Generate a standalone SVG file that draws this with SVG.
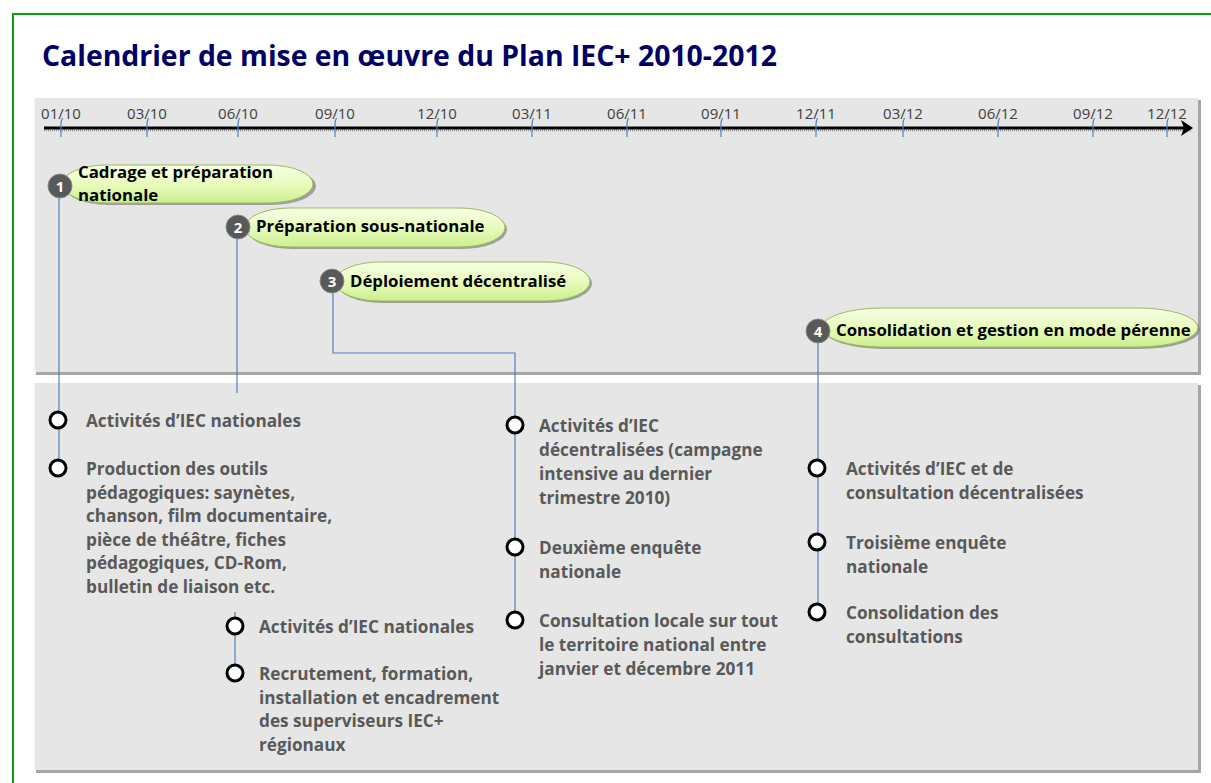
<svg xmlns="http://www.w3.org/2000/svg" width="1211" height="783" viewBox="0 0 1211 783">
<style>
.title{font-family:"Open Sans","Liberation Sans",sans-serif;font-weight:bold;font-size:28.4px;fill:#000066}
.tick{font-family:"Open Sans","Liberation Sans",sans-serif;font-size:15px;fill:#404040;text-anchor:middle}
.tk{stroke:#4f81bd;stroke-width:1.2;fill:none}
.ph{font-family:"Open Sans","Liberation Sans",sans-serif;font-weight:bold;font-size:16.8px;fill:#000}
.num{font-family:"Open Sans","Liberation Sans",sans-serif;font-weight:bold;font-size:15px;fill:#fff;text-anchor:middle}
.nc{fill:#595959;stroke:#8c8c8c;stroke-width:1}
.pill{fill:url(#pg);stroke:#9bbb59;stroke-width:1}
.psh{fill:#7f7f7f;opacity:0.7}
.it{font-family:"Open Sans","Liberation Sans",sans-serif;font-weight:bold;font-size:17.2px;fill:#595959}
.dot{fill:#fff;stroke:#000;stroke-width:3}
.con{stroke:#4f81bd;stroke-width:1.2;fill:none}
.panel{fill:#e6e6e6}
</style>
<defs>
<linearGradient id="pg" x1="0" y1="0" x2="0" y2="1">
<stop offset="0" stop-color="#f6ffe6"/>
<stop offset="0.5" stop-color="#e8fbbd"/>
<stop offset="1" stop-color="#cdef8e"/>
</linearGradient>
<marker id="arr" markerWidth="6" markerHeight="6" refX="3" refY="3" orient="auto" markerUnits="strokeWidth">
<path d="M0,0.3 L4,3 L0,5.7 L1,3 Z" fill="#000"/>
</marker>
</defs>
<rect x="0" y="0" width="1211" height="783" fill="#fff"/>
<rect x="13" y="14" width="1300" height="900" fill="none" stroke="#129b12" stroke-width="2"/>
<text class="title" x="42" y="66">Calendrier de mise en œuvre du Plan IEC+ 2010-2012</text>

<g id="panel-top">
<rect x="36" y="100" width="1165" height="275" fill="#a6a6a6"/>
<rect x="34" y="98" width="1164" height="274" class="panel"/>
<line x1="34.5" y1="98" x2="34.5" y2="372" stroke="#f2f2f2" stroke-width="1"/>
</g>
<g id="panel-bottom">
<rect x="36" y="385" width="1165" height="388" fill="#a6a6a6"/>
<rect x="34" y="383" width="1164" height="387" class="panel"/>
<line x1="34.5" y1="383" x2="34.5" y2="770" stroke="#f2f2f2" stroke-width="1"/>
</g>

<g id="axis">
<line x1="44" y1="130.5" x2="1192" y2="130.5" stroke="#8c8c8c" stroke-width="1.5" stroke-dasharray="1 1"/>
<line x1="44" y1="128" x2="1190" y2="128" stroke="#000" stroke-width="3" marker-end="url(#arr)"/>
<g id="ticks">
<text class="tick" x="61" y="119">01/10</text>
<text class="tick" x="147" y="119">03/10</text>
<text class="tick" x="238" y="119">06/10</text>
<text class="tick" x="335" y="119">09/10</text>
<text class="tick" x="437" y="119">12/10</text>
<text class="tick" x="532" y="119">03/11</text>
<text class="tick" x="627" y="119">06/11</text>
<text class="tick" x="721" y="119">09/11</text>
<text class="tick" x="816" y="119">12/11</text>
<text class="tick" x="903" y="119">03/12</text>
<text class="tick" x="998" y="119">06/12</text>
<text class="tick" x="1093" y="119">09/12</text>
<text class="tick" x="1167" y="119">12/12</text>
<path class="tk" d="M62.5 118 Q61 121 61 124 V137"/>
<path class="tk" d="M148.5 118 Q147 121 147 124 V137"/>
<path class="tk" d="M239.5 118 Q238 121 238 124 V137"/>
<path class="tk" d="M336.5 118 Q335 121 335 124 V137"/>
<path class="tk" d="M438.5 118 Q437 121 437 124 V137"/>
<path class="tk" d="M533.5 118 Q532 121 532 124 V137"/>
<path class="tk" d="M628.5 118 Q627 121 627 124 V137"/>
<path class="tk" d="M722.5 118 Q721 121 721 124 V137"/>
<path class="tk" d="M817.5 118 Q816 121 816 124 V137"/>
<path class="tk" d="M904.5 118 Q903 121 903 124 V137"/>
<path class="tk" d="M999.5 118 Q998 121 998 124 V137"/>
<path class="tk" d="M1094.5 118 Q1093 121 1093 124 V137"/>
<path class="tk" d="M1168.5 118 Q1167 121 1167 124 V137"/>
</g>
</g>

<g id="connectors">
<path class="con" d="M59 197 V468"/>
<path class="con" d="M237 238 V393"/>
<path class="con" d="M235 612 V673"/>
<path class="con" d="M333 292 V353 H515 V620"/>
<path class="con" d="M818 342 V612"/>
</g>

<g id="phase1">
<rect class="psh" x="64" y="167" width="252" height="38" rx="45" ry="19"/>
<rect class="pill" x="62" y="165" width="251" height="38" rx="45" ry="19"/>
<circle class="nc" cx="60" cy="186" r="12"/>
<text class="num" x="60" y="191.5">1</text>
<text class="ph" x="78" y="178">Cadrage et préparation</text>
<text class="ph" x="78" y="201">nationale</text>
</g>
<g id="phase2">
<rect class="psh" x="247" y="210" width="260" height="39" rx="45" ry="19.5"/>
<rect class="pill" x="245" y="208" width="260" height="39" rx="45" ry="19.5"/>
<circle class="nc" cx="238" cy="227" r="12"/>
<text class="num" x="238" y="232.5">2</text>
<text class="ph" x="256" y="232">Préparation sous-nationale</text>
</g>
<g id="phase3">
<rect class="psh" x="337" y="264" width="255" height="39" rx="45" ry="19.5"/>
<rect class="pill" x="335" y="262" width="255" height="39" rx="45" ry="19.5"/>
<circle class="nc" cx="332" cy="281" r="12"/>
<text class="num" x="332" y="286.5">3</text>
<text class="ph" x="350" y="287">Déploiement décentralisé</text>
</g>
<g id="phase4">
<rect class="psh" x="824" y="310" width="376" height="39" rx="60" ry="19.5"/>
<rect class="pill" x="822" y="308" width="376" height="39" rx="60" ry="19.5"/>
<circle class="nc" cx="818" cy="331" r="12"/>
<text class="num" x="818" y="336.5">4</text>
<text class="ph" x="836" y="336">Consolidation et gestion en mode pérenne</text>
</g>

<g id="item1a">
<circle class="dot" cx="58" cy="420" r="8"/>
<text class="it" x="86" y="427">Activités d’IEC nationales</text>
</g>
<g id="item1b">
<circle class="dot" cx="58" cy="468" r="8"/>
<text class="it" x="86" y="475">Production des outils</text>
<text class="it" x="86" y="498.5">pédagogiques: saynètes,</text>
<text class="it" x="86" y="522">chanson, film documentaire,</text>
<text class="it" x="86" y="545.5">pièce de théâtre, fiches</text>
<text class="it" x="86" y="569">pédagogiques, CD-Rom,</text>
<text class="it" x="86" y="592.5">bulletin de liaison etc.</text>
</g>
<g id="item2a">
<circle class="dot" cx="235" cy="626" r="8"/>
<text class="it" x="259" y="633">Activités d’IEC nationales</text>
</g>
<g id="item2b">
<circle class="dot" cx="235" cy="673" r="8"/>
<text class="it" x="259" y="680">Recrutement, formation,</text>
<text class="it" x="259" y="703.5">installation et encadrement</text>
<text class="it" x="259" y="727">des superviseurs IEC+</text>
<text class="it" x="259" y="750.5">régionaux</text>
</g>
<g id="item3a">
<circle class="dot" cx="515" cy="425" r="8"/>
<text class="it" x="539" y="432">Activités d’IEC</text>
<text class="it" x="539" y="456">décentralisées (campagne</text>
<text class="it" x="539" y="480">intensive au dernier</text>
<text class="it" x="539" y="504">trimestre 2010)</text>
</g>
<g id="item3b">
<circle class="dot" cx="515" cy="547" r="8"/>
<text class="it" x="539" y="554">Deuxième enquête</text>
<text class="it" x="539" y="578">nationale</text>
</g>
<g id="item3c">
<circle class="dot" cx="515" cy="620" r="8"/>
<text class="it" x="539" y="627">Consultation locale sur tout</text>
<text class="it" x="539" y="651">le territoire national entre</text>
<text class="it" x="539" y="675">janvier et décembre 2011</text>
</g>
<g id="item4a">
<circle class="dot" cx="817" cy="468" r="8"/>
<text class="it" x="846" y="475">Activités d’IEC et de</text>
<text class="it" x="846" y="499">consultation décentralisées</text>
</g>
<g id="item4b">
<circle class="dot" cx="817" cy="542" r="8"/>
<text class="it" x="846" y="549">Troisième enquête</text>
<text class="it" x="846" y="573">nationale</text>
</g>
<g id="item4c">
<circle class="dot" cx="817" cy="612" r="8"/>
<text class="it" x="846" y="619">Consolidation des</text>
<text class="it" x="846" y="643">consultations</text>
</g>
</svg>
